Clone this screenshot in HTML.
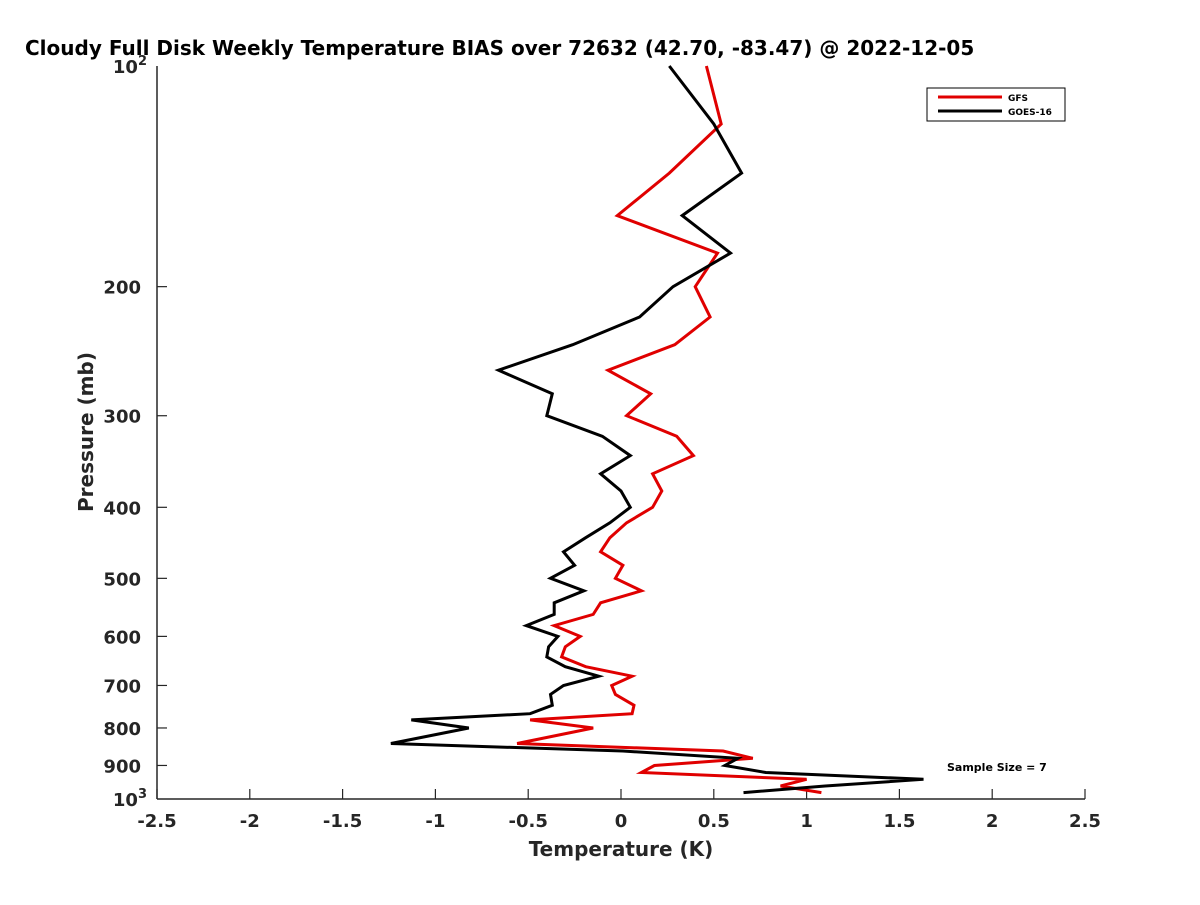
<!DOCTYPE html>
<html><head><meta charset="utf-8"><style>
html,body{margin:0;padding:0;background:#fff;overflow:hidden;}
svg text{font-family:"DejaVu Sans","Liberation Sans",sans-serif;}
</style></head><body>
<svg id="chart" width="1200" height="900" xmlns="http://www.w3.org/2000/svg">
<rect width="1200" height="900" fill="#fff"/>
<text x="25" y="55" font-size="20" font-weight="bold" fill="#000">Cloudy Full Disk Weekly Temperature BIAS over 72632 (42.70, -83.47) @ 2022-12-05</text>
<g id="axes"></g>
<g id="series"></g>
<g>
<rect x="927" y="88" width="138" height="33" fill="#fff" stroke="#000" stroke-width="1"/>
<line x1="938" y1="97" x2="1002" y2="97" stroke="#e00000" stroke-width="3"/>
<text x="1008" y="101" font-size="9" font-weight="bold">GFS</text>
<line x1="938" y1="111" x2="1002" y2="111" stroke="#000" stroke-width="3"/>
<text x="1008" y="115" font-size="9" font-weight="bold">GOES-16</text>
</g>
<text x="947" y="771" font-size="11" font-weight="bold">Sample Size = 7</text>
<text x="621" y="856" font-size="20" font-weight="bold" text-anchor="middle" fill="#262626">Temperature (K)</text>
<text transform="translate(93,432) rotate(-90)" font-size="20" font-weight="bold" text-anchor="middle" fill="#262626">Pressure (mb)</text>
</svg>
<script>
const pressures = [100,120,140,160,180,200,220,240,260,280,300,320,340,360,380,400,420,440,460,480,500,520,540,560,580,600,620,640,660,680,700,720,745,765,780,800,840,860,880,900,920,940,960,980];
const goesBias = [0.26,0.50,0.65,0.33,0.59,0.28,0.10,-0.26,-0.66,-0.37,-0.40,-0.10,0.05,-0.11,0.00,0.05,-0.06,-0.19,-0.31,-0.25,-0.38,-0.20,-0.36,-0.36,-0.51,-0.34,-0.39,-0.40,-0.30,-0.12,-0.31,-0.38,-0.37,-0.49,-1.13,-0.82,-1.24,0.01,0.63,0.56,0.78,1.63,1.10,0.66];
const gfsBias = [0.46,0.54,0.26,-0.02,0.52,0.40,0.48,0.29,-0.07,0.16,0.03,0.30,0.39,0.17,0.22,0.17,0.03,-0.06,-0.11,0.01,-0.03,0.11,-0.11,-0.15,-0.36,-0.22,-0.30,-0.32,-0.19,0.06,-0.05,-0.03,0.07,0.06,-0.49,-0.15,-0.56,0.55,0.71,0.18,0.11,1.00,0.86,1.08];
const xTicks = [-2.5,-2,-1.5,-1,-0.5,0,0.5,1,1.5,2,2.5];
const yTicks = [200,300,400,500,600,700,800,900];

const X0=157,X1=1085,Y0=66,Y1=799;
function xs(v){return X0+(v+2.5)/5*(X1-X0);}
function ys(p){return Y0+(Math.log10(p)-2)*(Y1-Y0);}
const NS="http://www.w3.org/2000/svg";
function mk(tag,attrs,parent){const e=document.createElementNS(NS,tag);for(const k in attrs)e.setAttribute(k,attrs[k]);parent.appendChild(e);return e;}
const axes=document.getElementById('axes');
const xl=mk('line',{x1:X0,y1:Y1,x2:X1,y2:Y1,stroke:'#262626','stroke-width':1.5},axes);


const yl=mk('line',{x1:X0,y1:Y0,x2:X0,y2:Y1,stroke:'#262626','stroke-width':1.5},axes);


xTicks.forEach(t=>{
  const x=xs(t);
  const tk=mk('line',{x1:x,y1:Y1,x2:x,y2:Y1-10,stroke:'#262626','stroke-width':1.2},axes);
  
  
  const tx=mk('text',{x:x,y:Y1+28,'font-size':18,'font-weight':'bold','text-anchor':'middle',fill:'#262626'},axes);
  tx.textContent=String(t);
  
  
});
yTicks.forEach(p=>{
  const y=ys(p);
  const tk=mk('line',{x1:X0,y1:y,x2:X0+10,y2:y,stroke:'#262626','stroke-width':1.2},axes);
  
  
  const tx=mk('text',{x:X0-16,y:y+7,'font-size':18,'font-weight':'bold','text-anchor':'end',fill:'#262626'},axes);
  tx.textContent=String(p);
  
  
});
[[100,'2'],[1000,'3']].forEach(([p,e])=>{
  const y=ys(p);
  const tx=mk('text',{x:X0-10,y:y+7,'font-size':18,'font-weight':'bold','text-anchor':'end',fill:'#262626'},axes);
  
  
  const a=document.createElementNS(NS,'tspan');a.textContent='10';tx.appendChild(a);
  const b=document.createElementNS(NS,'tspan');b.setAttribute('dy','-8');b.setAttribute('font-size','13');b.textContent=e;tx.appendChild(b);
});
const ser=document.getElementById('series');
function drawLine(vals,color,name){
  const pts=vals.map((v,i)=>xs(v).toFixed(1)+','+ys(pressures[i]).toFixed(1)).join(' ');
  const pl=mk('polyline',{points:pts,fill:'none',stroke:color,'stroke-width':3,'stroke-linejoin':'miter'},ser);
  
  
}
drawLine(gfsBias,'#e00000','gfs-line');
drawLine(goesBias,'#000000','goes16-line');
</script>
</body></html>
